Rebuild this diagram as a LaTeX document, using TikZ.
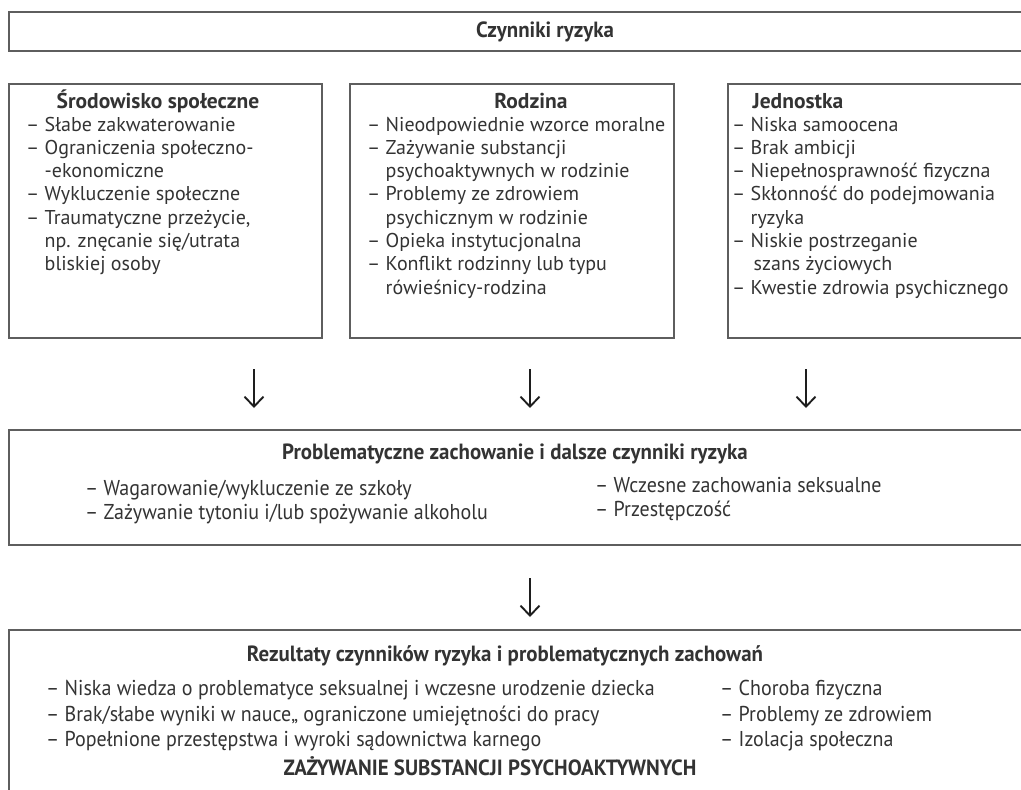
\documentclass[tikz,border=0pt]{standalone}
\usepackage{fontspec}
\setmainfont{PT Sans}
\newfontfamily\condfont[FakeStretch=0.93]{PT Sans}
\newfontfamily\headfont[FakeStretch=0.95]{PT Sans}
\usetikzlibrary{arrows.meta}
\definecolor{txt}{HTML}{333333}
\definecolor{frame}{HTML}{5E5E5E}
\definecolor{arrc}{HTML}{1E1E1E}
\begin{document}
\begin{tikzpicture}[x=1pt,y=-1pt,
  box/.style={draw=frame, line width=1.8pt, rectangle, anchor=north west, inner sep=0pt},
  item/.style={anchor=base west, inner sep=0pt, text=txt, font=\fontsize{20}{24}\selectfont},
  headc/.style={anchor=base, inner sep=0pt, text=txt, font=\fontsize{21.5}{24}\selectfont\bfseries},
  citem/.style={anchor=base west, inner sep=0pt, text=txt, font=\condfont\fontsize{21.5}{24}\selectfont},
  chead/.style={anchor=base, inner sep=0pt, text=txt, font=\headfont\fontsize{22}{24}\selectfont\bfseries},
  arr/.style={-{Straight Barb[length=10pt,width=19pt,line width=1.9pt]}, line width=1.7pt, draw=arrc}]
\useasboundingbox (0,0) rectangle (1021,790);
\clip (0,0) rectangle (1021,790);

% boxes
\node[box, minimum width=1030pt, minimum height=39pt] (topbox) at (8,11) {};
\node[box, minimum width=313pt, minimum height=254pt] (envbox) at (8,83) {};
\node[box, minimum width=324pt, minimum height=254pt] (fambox) at (349,83) {};
\node[box, minimum width=310pt, minimum height=254pt] (indbox) at (727,83) {};
\node[box, minimum width=1030pt, minimum height=115pt] (probbox) at (8,429) {};
\node[box, minimum width=1030pt, minimum height=200pt] (resbox) at (8,629) {};

% title
\node[chead] (title) at (545,37) {Czynniki ryzyka};

% column headers
\node[headc] (envhead) at (158,108) {Środowisko społeczne};
\node[headc] (famhead) at (531,108) {Rodzina};
\node[headc] (indhead) at (798,108) {Jednostka};

% left list
\foreach \t [count=\i from 0] in {%
  {– Słabe zakwaterowanie},
  {– Ograniczenia społeczno-},
  {\phantom{– }-ekonomiczne},
  {– Wykluczenie społeczne},
  {– Traumatyczne przeżycie,},
  {\phantom{– }np. znęcanie się/utrata},
  {\phantom{– }bliskiej osoby}}
  \node[item] (env\i) at (26,131+23.3*\i) {\t};

% middle list
\foreach \t [count=\i from 0] in {%
  {– Nieodpowiednie wzorce moralne},
  {– Zażywanie substancji},
  {\phantom{– }psychoaktywnych w rodzinie},
  {– Problemy ze zdrowiem},
  {\phantom{– }psychicznym w rodzinie},
  {– Opieka instytucjonalna},
  {– Konflikt rodzinny lub typu},
  {\phantom{– }rówieśnicy-rodzina}}
  \node[item] (fam\i) at (367,131+23.3*\i) {\t};

% right list
\foreach \t [count=\i from 0] in {%
  {– Niska samoocena},
  {– Brak ambicji},
  {– Niepełnosprawność fizyczna},
  {– Skłonność do podejmowania},
  {\phantom{– }ryzyka},
  {– Niskie postrzeganie},
  {\phantom{– }\hspace{3pt}szans życiowych},
  {– Kwestie zdrowia psychicznego}}
  \node[item] (ind\i) at (732,131+23.3*\i) {\t};

% arrows
\coordinate (a1s) at (254,369);
\coordinate (a1e) at (254,408);
\coordinate (a2s) at (530,369);
\coordinate (a2e) at (530,408);
\coordinate (a3s) at (806,369);
\coordinate (a3e) at (806,408);
\coordinate (a4s) at (530,578);
\coordinate (a4e) at (530,617);
\draw[arr] (a1s) -- (a1e);
\draw[arr] (a2s) -- (a2e);
\draw[arr] (a3s) -- (a3e);
\draw[arr] (a4s) -- (a4e);

% problem box
\node[chead] (probhead) at (515,459) {Problematyczne zachowanie i dalsze czynniki ryzyka};
\node[citem] (p1) at (85,495) {– Wagarowanie/wykluczenie ze szkoły};
\node[citem] (p2) at (85,519) {– Zażywanie tytoniu i/lub spożywanie alkoholu};
\node[citem] (p3) at (595,492) {– Wczesne zachowania seksualne};
\node[citem] (p4) at (595,516) {– Przestępczość};

% result box
\node[chead] (reshead) at (505,661) {Rezultaty czynników ryzyka i problematycznych zachowań};
\node[citem] (r1) at (46,695) {– Niska wiedza o problematyce seksualnej i wczesne urodzenie dziecka};
\node[citem] (r2) at (46,721) {– Brak/słabe wyniki w nauce„ ograniczone umiejętności do pracy};
\node[citem] (r3) at (46,746) {– Popełnione przestępstwa i wyroki sądownictwa karnego};
\node[citem] (r4) at (720,695) {– Choroba fizyczna};
\node[citem] (r5) at (720,721) {– Problemy ze zdrowiem};
\node[citem] (r6) at (720,746) {– Izolacja społeczna};
\node[chead] (rescaps) at (490,775) {ZAŻYWANIE SUBSTANCJI PSYCHOAKTYWNYCH};
\end{tikzpicture}
\end{document}
